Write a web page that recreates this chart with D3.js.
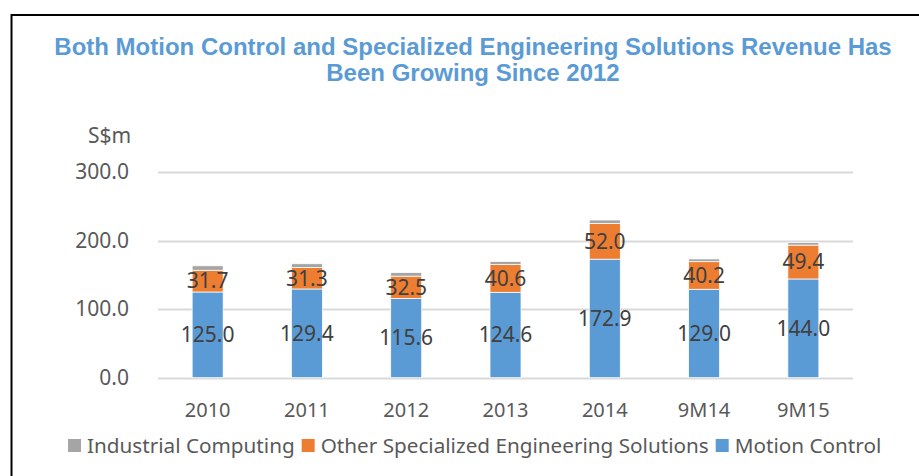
<!DOCTYPE html>
<html>
<head>
<meta charset="utf-8">
<script src="https://cdn.jsdelivr.net/npm/d3@7"></script>
<style>
  body { margin: 0; background: #fff; }
  svg { display: block; }
</style>
</head>
<body>
<div id="chart"></div>
<script>
// categories + series
var periods = ["2010", "2011", "2012", "2013", "2014", "9M14", "9M15"];
var motionControl = [125.0, 129.4, 115.6, 124.6, 172.9, 129.0, 144.0];
var otherSES = [31.7, 31.3, 32.5, 40.6, 52.0, 40.2, 49.4];
var industrialComputing = [6.5, 5.5, 5.2, 4.3, 5.1, 4.0, 3.8];
var yTicks = [0, 100, 200, 300];

var seriesNames = ["Motion Control", "Other Specialized Engineering Solutions", "Industrial Computing"];
var seriesColors = { "Motion Control": "#5B9BD5", "Other Specialized Engineering Solutions": "#ED7D31", "Industrial Computing": "#A5A5A5" };
var legendOrder = ["Industrial Computing", "Other Specialized Engineering Solutions", "Motion Control"];

(function() {
  var W = 919, H = 476;
  var font = "'Noto Sans', 'Open Sans', sans-serif";

  var svg = d3.select("#chart")
    .append("svg")
    .attr("width", W)
    .attr("height", H);

  // outer frame (runs off the right / bottom edge)
  svg.append("rect")
    .attr("x", 11.5).attr("y", 15)
    .attr("width", 1000).attr("height", 1000)
    .attr("fill", "none")
    .attr("stroke", "#000")
    .attr("stroke-width", 2);

  // title
  var title = svg.append("text")
    .attr("text-anchor", "middle")
    .attr("font-family", "'Liberation Sans', Arial, sans-serif")
    .attr("font-weight", "bold")
    .attr("font-size", "24px")
    .attr("fill", "#5B9BD5");
  title.append("tspan").attr("x", 473).attr("y", 55)
    .text("Both Motion Control and Specialized Engineering Solutions Revenue Has");
  title.append("tspan").attr("x", 473).attr("y", 81)
    .text("Been Growing Since 2012");

  var xScale = d3.scaleBand()
    .domain(periods)
    .range([158, 853]);

  var yScale = d3.scaleLinear()
    .domain([0, 300])
    .range([377.7, 172]);

  var barW = 31;

  // gridlines
  svg.selectAll(".grid")
    .data(yTicks)
    .enter().append("line")
    .attr("class", "grid")
    .attr("x1", 158).attr("x2", 853)
    .attr("y1", function(d) { return Math.round(yScale(d)) + 0.5; })
    .attr("y2", function(d) { return Math.round(yScale(d)) + 0.5; })
    .attr("stroke", "#D9D9D9")
    .attr("stroke-width", 2);

  // y tick labels
  svg.selectAll(".ytick")
    .data(yTicks)
    .enter().append("text")
    .attr("class", "ytick")
    .attr("x", 129)
    .attr("y", function(d) { return yScale(d); })
    .attr("dy", "0.35em")
    .attr("text-anchor", "end")
    .attr("font-family", font)
    .attr("font-size", "21px")
    .attr("fill", "#595959")
    .text(function(d) { return d3.format(".1f")(d); });

  // unit label
  svg.append("text")
    .attr("x", 88).attr("y", 143)
    .attr("font-family", font)
    .attr("font-size", "21px")
    .attr("fill", "#595959")
    .text("S$m");

  // stacked data
  var rows = periods.map(function(p, i) {
    return {
      period: p,
      "Motion Control": motionControl[i],
      "Other Specialized Engineering Solutions": otherSES[i],
      "Industrial Computing": industrialComputing[i]
    };
  });
  var stacked = d3.stack().keys(seriesNames)(rows);

  var layers = svg.selectAll(".layer")
    .data(stacked)
    .enter().append("g")
    .attr("class", "layer")
    .attr("fill", function(d) { return seriesColors[d.key]; });

  layers.selectAll("rect")
    .data(function(d) { return d; })
    .enter().append("rect")
    .attr("x", function(d) { return xScale(d.data.period) + xScale.bandwidth() / 2 - barW / 2; })
    .attr("y", function(d) { return yScale(d[1]); })
    .attr("width", barW)
    .attr("height", function(d) { return yScale(d[0]) - yScale(d[1]); })
    .attr("stroke", "#fff")
    .attr("stroke-width", 0.75);

  // value labels for the two big segments
  stacked.slice(0, 2).forEach(function(layer) {
    svg.selectAll(".lbl-" + layer.index)
      .data(layer)
      .enter().append("text")
      .attr("x", function(d) { return xScale(d.data.period) + xScale.bandwidth() / 2; })
      .attr("y", function(d) { return (yScale(d[0]) + yScale(d[1])) / 2; })
      .attr("dy", "0.35em")
      .attr("text-anchor", "middle")
      .attr("font-family", font)
      .attr("font-size", "21px")
      .attr("fill", "#404040")
      .text(function(d) { return d3.format(".1f")(d[1] - d[0]); });
  });

  // x labels
  svg.selectAll(".xlab")
    .data(periods)
    .enter().append("text")
    .attr("class", "xlab")
    .attr("x", function(d) { return xScale(d) + xScale.bandwidth() / 2; })
    .attr("y", 416.5)
    .attr("text-anchor", "middle")
    .attr("font-family", font)
    .attr("font-size", "20px")
    .attr("fill", "#595959")
    .text(function(d) { return d; });

  // legend
  var legend = svg.append("g");
  var lx = 68;
  legendOrder.forEach(function(name) {
    legend.append("rect")
      .attr("x", lx).attr("y", 439)
      .attr("width", 13).attr("height", 13)
      .attr("fill", seriesColors[name]);
    var t = legend.append("text")
      .attr("x", lx + 19).attr("y", 453)
      .attr("font-family", font)
      .attr("font-size", "20.7px")
      .attr("fill", "#595959")
      .text(name);
    lx += 19 + t.node().getComputedTextLength() + 7;
  });
})();
</script>
</body>
</html>
